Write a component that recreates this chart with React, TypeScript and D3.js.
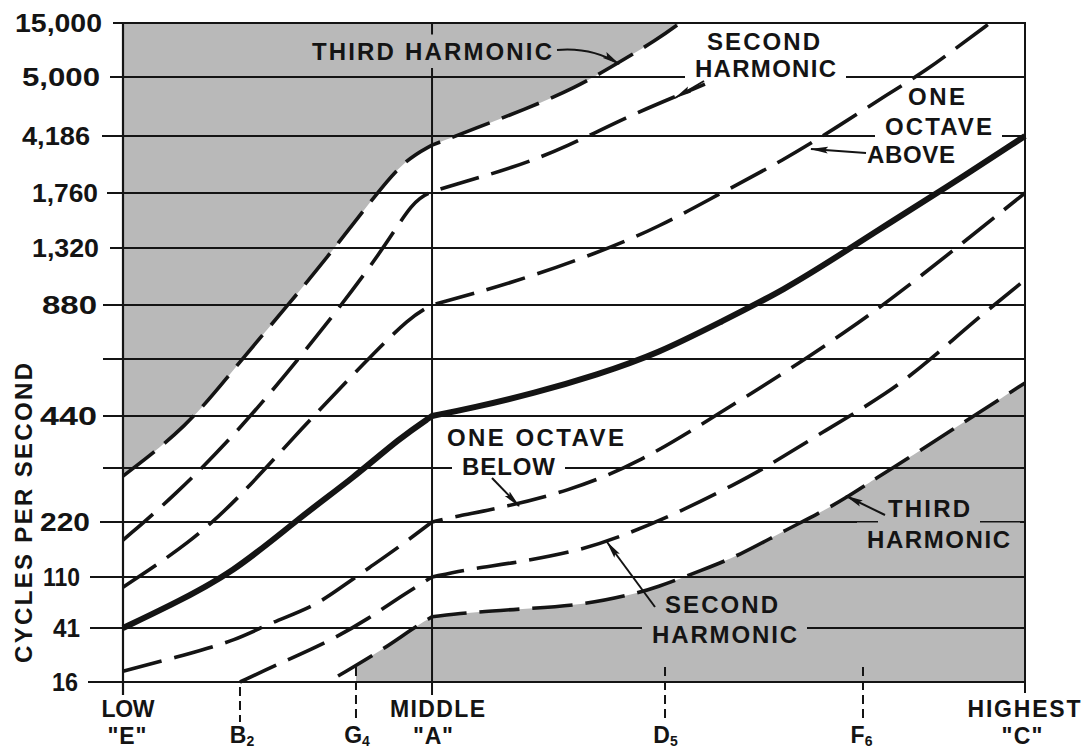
import React from "react";
import * as d3 from "d3";

const W = 1085;
const H = 751;

// ---------- DATA ----------
// Y axis: equally ranked rows of frequency labels (bottom -> top), "" = unlabeled row
const yTickLabels = ["16", "41", "110", "220", "", "440", "", "880", "1,320", "1,760", "4,186", "5,000", "15,000"];

// X axis: keyboard positions (0 = low "E", 100 = highest "C")
const xTickTop = ["LOW", "", "", "MIDDLE", "", "", "HIGHEST"];
const xTickMain = ['"E"', "B", "G", '"A"', "D", "F", '"C"'];
const xTickSub = ["", "2", "4", "", "5", "6", ""];
const xTickPos = [0, 12.97, 25.83, 34.26, 60.09, 82.04, 100];

type Pt = [number, number]; // [keyboard position, row value]

const thirdHarmonicUpper: Pt[] = [
  [0, 3.85], [7.1, 4.79], [12.2, 5.81], [18.51, 7.04], [23.28, 7.96], [28.16, 9.0],
  [31.26, 9.58], [34.26, 9.84], [39.25, 10.14], [44.35, 10.44], [50.11, 10.81],
  [54.88, 11.26], [59.2, 11.69], [61.75, 12.0],
];
const secondHarmonicUpper: Pt[] = [
  [0, 2.67], [5.54, 3.46], [12.97, 4.73], [21.84, 6.48], [28.82, 7.96], [32.15, 8.87],
  [34.26, 9.02], [35.92, 9.11], [43.24, 9.44], [49.22, 9.81], [55.76, 10.32],
  [62.2, 10.73], [64.52, 10.88],
];
const octaveAbove: Pt[] = [
  [0, 1.8], [7.43, 2.62], [12.97, 3.46], [19.62, 4.73], [27.05, 5.98], [31.82, 6.78],
  [34.26, 7.0], [43.24, 7.39], [52.55, 7.91], [59.42, 8.38], [66.3, 9.0], [73.28, 9.58],
  [79.16, 10.15], [84.81, 10.71], [89.14, 11.13], [92.79, 11.59], [96.12, 12.0],
];
const fundamental: Pt[] = [
  [0, 1.0], [4.88, 1.41], [12.2, 2.07], [19.62, 3.09], [25.5, 3.81], [30.71, 4.58],
  [34.26, 5.0], [38.69, 5.14], [45.57, 5.4], [52.55, 5.72], [59.42, 6.11], [66.3, 6.69],
  [73.28, 7.26], [80.27, 7.96], [84.81, 8.44], [90.8, 9.05], [100, 10.0],
];
const octaveBelow: Pt[] = [
  [0, 0.2], [6.87, 0.5], [12.64, 0.78], [16.3, 1.1], [21.06, 1.41], [24.06, 1.78],
  [27.38, 2.18], [30.71, 2.56], [34.26, 3.0], [37.03, 3.11], [41.8, 3.26], [49.22, 3.56],
  [57.32, 4.1], [66.3, 5.07], [73.28, 5.75], [80.27, 6.52], [84.81, 7.06], [91.69, 7.91],
  [100, 9.0],
];
const secondHarmonicLower: Pt[] = [
  [12.97, 0.0], [17.41, 0.35], [22.73, 0.74], [27.38, 1.2], [30.71, 1.61], [34.26, 2.0],
  [38.47, 2.15], [43.24, 2.25], [51.0, 2.49], [56.21, 2.8], [61.75, 3.19], [68.07, 3.72],
  [70.95, 3.98], [77.94, 4.73], [84.81, 5.4], [89.47, 5.98], [94.12, 6.67], [100, 7.44],
];
const thirdHarmonicLower: Pt[] = [
  [23.84, 0.11], [29.27, 0.65], [31.82, 0.96], [34.26, 1.22], [38.69, 1.31], [44.01, 1.37],
  [51.0, 1.45], [56.21, 1.65], [58.98, 1.78], [64.3, 2.13], [68.4, 2.4], [72.84, 2.8],
  [77.27, 3.17], [80.27, 3.46], [82.82, 3.74], [84.81, 3.94], [91.69, 4.71], [100, 5.58],
];

const curveSeries = [
  { key: "t3u", data: thirdHarmonicUpper, solid: false },
  { key: "s2u", data: secondHarmonicUpper, solid: false },
  { key: "o8u", data: octaveAbove, solid: false },
  { key: "fund", data: fundamental, solid: true },
  { key: "o8d", data: octaveBelow, solid: false },
  { key: "s2d", data: secondHarmonicLower, solid: false },
  { key: "t3d", data: thirdHarmonicLower, solid: false },
];

// ---------- LAYOUT ----------
const PLOT_L = 123;
const PLOT_R = 1025;
// the hand-drawn row spacing of the original (row 0 = bottom)
const ROW_PX = [682, 628, 577, 522, 468, 416, 359, 305, 248, 193, 136, 77, 23];
const GRID_LEFT = [88, 90, 90, 100, 103, 103, 103, 103, 110, 107, 102, 110, 113];
const YLABEL_END = [78, 80, 80, 90, 0, 97, 0, 97, 99, 98, 90, 100, 102];
const YLABEL_W = [26, 27, 37, 50, 0, 57, 0, 55, 67, 66, 68, 78, 87];
const X_TOP_DX = [5, 0, 0, 5.5, 0, 0, -1];
const X_TOP_W = [53, 0, 0, 95, 0, 0, 113];
const X_BOT_DX = [4, 2, 1, 1, 0.5, -1.5, -3];
const X_BOT_W = [39, 0, 0, 40, 0, 0, 41];

const GRAY = "#b9b9b9";
const INK = "#141414";
const FONT = "'Liberation Sans', Arial, sans-serif";

const annotations = [
  { bg: GRAY, lines: [{ text: "THIRD HARMONIC", cx: 432, by: 60, w: 240 }] },
  { bg: "#ffffff", lines: [{ text: "SECOND", cx: 763.5, by: 50, w: 113 }, { text: "HARMONIC", cx: 765.5, by: 77, w: 141 }] },
  { bg: "#ffffff", lines: [{ text: "ONE", cx: 936.5, by: 105, w: 57 }, { text: "OCTAVE", cx: 938.5, by: 135, w: 107 }, { text: "ABOVE", cx: 911, by: 163, w: 88 }] },
  { bg: "#ffffff", lines: [{ text: "ONE OCTAVE", cx: 535.5, by: 446, w: 177 }, { text: "BELOW", cx: 508.5, by: 475, w: 93 }] },
  { bg: GRAY, lines: [{ text: "THIRD", cx: 929, by: 517, w: 82 }, { text: "HARMONIC", cx: 938.5, by: 548, w: 143 }] },
  { bg: GRAY, lines: [{ text: "SECOND", cx: 721.5, by: 613, w: 113 }, { text: "HARMONIC", cx: 724.5, by: 643, w: 145 }] },
];

const arrows: { from: Pt; ctrl?: Pt; to: Pt }[] = [
  { from: [557, 50], ctrl: [592, 47], to: [619, 64] },
  { from: [704, 81], to: [675, 98] },
  { from: [866, 153], to: [811, 149] },
  { from: [492, 478], to: [519, 506] },
  { from: [885, 515], to: [846, 496] },
  { from: [655, 607], to: [607, 542] },
];

const x = d3.scaleLinear().domain([0, 100]).range([PLOT_L, PLOT_R]);
const y = d3.scaleLinear().domain(d3.range(13)).range(ROW_PX);
const A_POS = xTickPos[3];

const line = d3
  .line<Pt>()
  .x((d) => x(d[0]))
  .y((d) => y(d[1]))
  .curve(d3.curveBasis);

// smooth each curve on either side of Middle "A", where the drawn curves break
function curvePath(data: Pt[]): string {
  const left = data.filter((d) => d[0] <= A_POS);
  const right = data.filter((d) => d[0] >= A_POS);
  const parts = [left, right].filter((p) => p.length > 1);
  return parts
    .map((p, i) => {
      const s = line(p) || "";
      return i === 0 ? s : "L" + s.slice(1);
    })
    .join("");
}

export default function App() {
  const capH = 17.5;
  const padX = 10;
  const padY = 8;
  const gx = x(xTickPos[2]);
  const t3u = thirdHarmonicUpper;
  const t3d = thirdHarmonicLower;
  const upperD =
    curvePath(t3u) +
    `L${x(t3u[t3u.length - 1][0])},${y(12)}L${x(0)},${y(12)}Z`;
  const lowerD =
    curvePath(t3d) + `L${x(100)},${y(0)}L${x(t3d[0][0])},${y(0)}Z`;
  return (
    <svg
      width={W}
      height={H}
      viewBox={`0 0 ${W} ${H}`}
      style={{ position: "absolute", left: 0, top: 0, background: "#fff" }}
      fontFamily={FONT}
    >
      <defs>
        <clipPath id="lowClip">
          <rect x={gx} y={0} width={PLOT_R - gx} height={H} />
        </clipPath>
        <marker id="ah" viewBox="0 0 18 8" refX={17} refY={4} markerWidth={18} markerHeight={8} markerUnits="userSpaceOnUse" orient="auto">
          <path d="M0,0.6 L18,4 L0,7.4 L3,4 Z" fill={INK} />
        </marker>
      </defs>
      <rect x={0} y={0} width={W} height={H} fill="#fff" />

      {/* shaded regions */}
      <path d={upperD} fill={GRAY} />
      <path d={lowerD} fill={GRAY} clipPath="url(#lowClip)" />

      {/* horizontal grid lines */}
      {yTickLabels.map((_, i) => (
        <line key={"g" + i} x1={GRID_LEFT[i]} x2={PLOT_R} y1={y(i)} y2={y(i)} stroke={INK} strokeWidth={2} />
      ))}

      {/* vertical lines */}
      <line x1={x(0)} x2={x(0)} y1={y(12) - 1} y2={695} stroke={INK} strokeWidth={2.2} />
      <line x1={x(A_POS)} x2={x(A_POS)} y1={y(12) - 1} y2={695} stroke={INK} strokeWidth={2} />
      <line x1={x(100)} x2={x(100)} y1={y(12) - 1} y2={693} stroke={INK} strokeWidth={2} />

      {/* dashed note ticks */}
      {xTickPos.map((p, i) =>
        xTickTop[i] === "" ? (
          <line key={"t" + i} x1={x(p)} x2={x(p)} y1={i === 1 ? 687 : 667} y2={722} stroke={INK} strokeWidth={2} strokeDasharray="9 5" />
        ) : null
      )}

      {/* label backgrounds (break grid lines) */}
      {annotations.map((a, ai) =>
        a.lines.map((l, li) => (
          <rect
            key={"bg" + ai + "-" + li}
            x={l.cx - l.w / 2 - padX}
            y={l.by - capH - padY}
            width={l.w + 2 * padX}
            height={capH + 2 * padY}
            fill={a.bg}
          />
        ))
      )}

      {/* curves */}
      {curveSeries.map((s) => (
        <path
          key={s.key}
          d={curvePath(s.data)}
          fill="none"
          stroke={INK}
          strokeWidth={s.solid ? 6 : 3.6}
          strokeDasharray={s.solid ? undefined : "40 13"}
          strokeLinecap="butt"
          strokeLinejoin="round"
        />
      ))}

      {/* annotation texts */}
      {annotations.map((a, ai) =>
        a.lines.map((l, li) => (
          <text
            key={"at" + ai + "-" + li}
            x={l.cx - l.w / 2}
            y={l.by}
            textLength={l.w}
            lengthAdjust="spacing"
            fontSize={24}
            fontWeight={700}
            fill={INK}
          >
            {l.text}
          </text>
        ))
      )}

      {/* arrows */}
      {arrows.map((a, i) => (
        <path
          key={"ar" + i}
          d={
            a.ctrl
              ? `M${a.from[0]},${a.from[1]} Q${a.ctrl[0]},${a.ctrl[1]} ${a.to[0]},${a.to[1]}`
              : `M${a.from[0]},${a.from[1]} L${a.to[0]},${a.to[1]}`
          }
          fill="none"
          stroke={INK}
          strokeWidth={2}
          markerEnd="url(#ah)"
        />
      ))}

      {/* y tick labels */}
      {yTickLabels.map((t, i) =>
        t ? (
          <text
            key={"yl" + i}
            x={YLABEL_END[i] - YLABEL_W[i]}
            y={y(i) + 9}
            textLength={YLABEL_W[i]}
            lengthAdjust="spacingAndGlyphs"
            fontSize={25}
            fontWeight={700}
            fill={INK}
          >
            {t}
          </text>
        ) : null
      )}

      {/* y title */}
      <text
        transform="translate(32,513) rotate(-90)"
        x={-150}
        y={0}
        textLength={300}
        lengthAdjust="spacing"
        fontSize={24}
        fontWeight={700}
        fill={INK}
      >
        CYCLES PER SECOND
      </text>

      {/* x tick labels */}
      {xTickPos.map((p, i) => (
        <g key={"xl" + i}>
          {xTickTop[i] ? (
            <text
              x={x(p) + X_TOP_DX[i] - X_TOP_W[i] / 2}
              y={717}
              textLength={X_TOP_W[i]}
              lengthAdjust="spacing"
              fontSize={23}
              fontWeight={700}
              fill={INK}
            >
              {xTickTop[i]}
            </text>
          ) : null}
          {X_BOT_W[i] ? (
            <text
              x={x(p) + X_BOT_DX[i] - X_BOT_W[i] / 2}
              y={744}
              textLength={X_BOT_W[i]}
              lengthAdjust="spacing"
              fontSize={23}
              fontWeight={700}
              fill={INK}
            >
              {xTickMain[i]}
            </text>
          ) : (
            <text x={x(p) + X_BOT_DX[i]} y={743} textAnchor="middle" fontSize={23} fontWeight={700} fill={INK}>
              {xTickMain[i]}
              <tspan fontSize={14} dy={3}>{xTickSub[i]}</tspan>
            </text>
          )}
        </g>
      ))}
    </svg>
  );
}
